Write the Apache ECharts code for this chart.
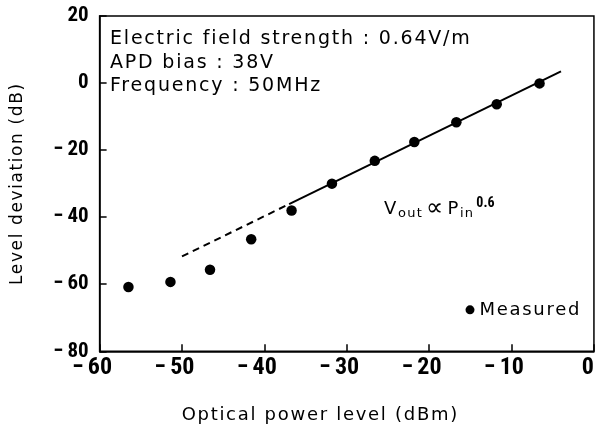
<!DOCTYPE html>
<html>
<head>
<meta charset="utf-8">
<script src="https://cdn.jsdelivr.net/npm/echarts@6/dist/echarts.min.js"></script>
<style>
	html, body {margin:0; padding:0; background:#fff;}
	#chart {width:597px; height:430px;}
</style>
</head>
<body>
<div id="chart"></div>
<script>
	// measured points
	var powerLevel = [-56.5, -51.4, -46.6, -41.6, -36.7, -31.8, -26.6, -21.8, -16.7, -11.8, -6.6];
	var levelDeviation = [-60.8, -59.3, -55.7, -46.6, -38.0, -30.0, -23.2, -17.6, -11.7, -6.3, -0.1];
	// fitted line (Vout ~ Pin^0.6)
	var fitDashX = [-50, -37];
	var fitDashY = [-51.7, -36.1];
	var fitSolidX = [-37, -4];
	var fitSolidY = [-36.1, 3.5];

	// the original lettering is widely spaced: add letter spacing to the DejaVu texts only
	(function () {
		var desc = Object.getOwnPropertyDescriptor(CanvasRenderingContext2D.prototype, 'font');
		Object.defineProperty(CanvasRenderingContext2D.prototype, 'font', {
			configurable: true,
			get: desc.get,
			set: function (v) {
				desc.set.call(this, v);
				var m = /(\d+(\.\d+)?)px/.exec(v);
				this.letterSpacing = (m && v.indexOf('"DejaVu Sans"') >= 0) ? (parseFloat(m[1]) * 0.095).toFixed(2) + 'px' : '0px';
			}
		});
	})();

	function pairs(xs, ys) {
		return xs.map(function (x, i) { return [x, ys[i]]; });
	}

	var font = '"DejaVu Sans", sans-serif';
	var tickFont = '"Roboto Condensed", sans-serif';
	var myChart = echarts.init(document.getElementById('chart'));
	var option = {
		animation: false,
		backgroundColor: '#fff',
		grid: {
			left: 99, top: 16, right: 1.5, bottom: 76,
			show: true, borderColor: '#000', borderWidth: 1.5, backgroundColor: 'transparent'
		},
		legend: {
			left: 460.5, top: 295, padding: 5,
			itemWidth: 9, itemHeight: 9, itemGap: 4,
			data: [{name: 'Measured', icon: 'circle', itemStyle: {color: '#000'}}],
			textStyle: {fontFamily: font, fontSize: 18, color: '#000'}
		},
		xAxis: {
			type: 'value', min: -60, max: 0, interval: 10,
			name: 'Optical power level (dBm)', nameLocation: 'middle', nameGap: 54,
			nameTextStyle: {fontFamily: font, fontSize: 18, color: '#000', padding: [0, 53, 0, 0]},
			axisLine: {onZero: false, lineStyle: {color: '#000', width: 1.5}},
			axisTick: {inside: true, length: 7, lineStyle: {color: '#000', width: 1.5}},
			splitLine: {show: false},
			axisLabel: {
				color: '#000', fontFamily: tickFont, fontSize: 24, fontWeight: 'bold', margin: 5,
				formatter: function (v) {
					if (v < 0) return '{m|\u2212}{dn|' + Math.abs(v) + '}';
					return '{dz|' + v + '}';
				},
				rich: {
					m: {fontFamily: tickFont, fontSize: 24, fontWeight: 'bold', color: '#000', padding: [0, 4, 0, 0]},
					dn: {fontFamily: tickFont, fontSize: 24, fontWeight: 'bold', color: '#000', padding: [0, 15, 0, 0]},
					dz: {fontFamily: tickFont, fontSize: 24, fontWeight: 'bold', color: '#000', padding: [0, 12, 0, 0]}
				}
			}
		},
		yAxis: {
			type: 'value', min: -80, max: 20, interval: 20,
			name: 'Level deviation (dB)', nameLocation: 'middle', nameGap: 73,
			nameTextStyle: {fontFamily: font, fontSize: 17, color: '#000'},
			axisLine: {onZero: false, lineStyle: {color: '#000', width: 1.5}},
			axisTick: {inside: true, length: 7, lineStyle: {color: '#000', width: 1.5}},
			splitLine: {show: false},
			axisLabel: {
				color: '#000', fontFamily: tickFont, fontSize: 21, fontWeight: 'bold', margin: 11,
				formatter: function (v) {
					return v < 0 ? '{m|\u2212}{d|' + Math.abs(v) + '}' : '{d|' + v + '}';
				},
				rich: {
					m: {fontFamily: tickFont, fontSize: 21, fontWeight: 'bold', color: '#000', padding: [0, 4, 0, 0]},
					d: {fontFamily: tickFont, fontSize: 21, fontWeight: 'bold', color: '#000'}
				}
			}
		},
		graphic: [
			{
				type: 'text', left: 110, top: 27.5,
				style: {
					text: 'Electric field strength : 0.64V/m\nAPD bias : 38V\nFrequency : 50MHz',
					font: '19px ' + font, fill: '#000', lineHeight: 23.5
				}
			},
			{
				type: 'text', left: 384, top: 196,
				style: {
					text: '{a|V}{s|out}{q|\u221D}{a|P}{s|in}{p|0.6}',
					fill: '#000',
					rich: {
						a: {fontFamily: font, fontSize: 18, color: '#000'},
						q: {fontFamily: font, fontSize: 24, color: '#000', padding: [0, 2, 0, 3]},
						s: {fontFamily: font, fontSize: 13, color: '#000', padding: [9, 0, 0, 0]},
						p: {fontFamily: tickFont, fontSize: 14, fontWeight: 'bold', color: '#000', padding: [0, 0, 12, 2]}
					}
				}
			}
		],
		series: [
			{
				name: 'fit-dash', type: 'line', data: pairs(fitDashX, fitDashY),
				showSymbol: false, silent: true,
				lineStyle: {color: '#000', width: 2, type: [7, 5]}
			},
			{
				name: 'fit-solid', type: 'line', data: pairs(fitSolidX, fitSolidY),
				showSymbol: false, silent: true,
				lineStyle: {color: '#000', width: 2}
			},
			{
				name: 'Measured', type: 'scatter', data: pairs(powerLevel, levelDeviation),
				symbol: 'circle', symbolSize: 10.5,
				itemStyle: {color: '#000', opacity: 1}
			}
		]
	};
	myChart.setOption(option);
</script>
</body>
</html>
